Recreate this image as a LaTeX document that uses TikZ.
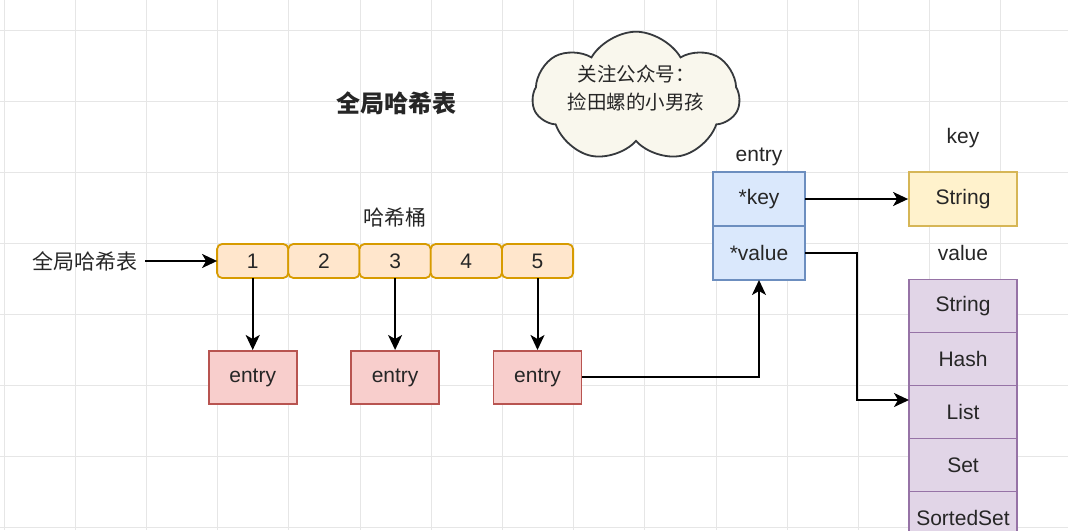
\documentclass[tikz,border=0pt]{standalone}
\usepackage{fontspec}
\setmainfont{Liberation Sans}
\newfontfamily\cjk{Noto Sans CJK SC}
\usepackage{tikz}
\usetikzlibrary{positioning,arrows.meta,shapes.symbols}
\usepackage{xcolor}

\definecolor{gridline}{HTML}{E6E6E6}
\definecolor{bucketfill}{HTML}{FFE6CC}
\definecolor{bucketline}{HTML}{D79B00}
\definecolor{entryfill}{HTML}{F8CECC}
\definecolor{entryline}{HTML}{B85450}
\definecolor{cellfill}{HTML}{DAE8FC}
\definecolor{cellline}{HTML}{6C8EBF}
\definecolor{keyfill}{HTML}{FFF2CC}
\definecolor{keyline}{HTML}{D6B656}
\definecolor{typefill}{HTML}{E1D5E7}
\definecolor{typeline}{HTML}{9673A6}
\definecolor{cloudfill}{HTML}{F9F7ED}
\definecolor{cloudline}{HTML}{36393D}

\begin{document}
\begin{tikzpicture}[
    x=1pt, y=-1pt,
    every node/.style={font=\fontsize{21}{25}\selectfont, text=black!85},
    bucket/.style={
        rectangle,
        rounded corners=5pt,
        draw=bucketline,
        fill=bucketfill,
        line width=1.8pt,
        minimum width=71.2pt,
        minimum height=34pt,
        outer sep=0pt
    },
    entrybox/.style={
        rectangle,
        draw=entryline,
        fill=entryfill,
        line width=1.8pt,
        minimum width=88pt,
        minimum height=53pt
    },
    cell/.style={
        rectangle,
        draw=cellline,
        fill=cellfill,
        line width=1.8pt,
        minimum width=92pt,
        minimum height=54pt,
        outer sep=0pt
    },
    keybox/.style={
        rectangle,
        draw=keyline,
        fill=keyfill,
        line width=1.8pt,
        minimum width=108pt,
        minimum height=54pt
    },
    typebox/.style={
        rectangle,
        draw=typeline,
        fill=typefill,
        line width=1.8pt,
        minimum width=108pt,
        minimum height=53pt,
        outer sep=0pt
    },
    connector/.style={
        line width=2pt,
        -{Stealth[length=15pt,width=14pt,inset=4pt]}
    }
]

% page and grid
\useasboundingbox (0,0) rectangle (1068,530);
\clip (0,0) rectangle (1068,530);
\fill[white] (0,0) rectangle (1068,530);
\foreach \x in {0,...,14}
    \draw[gridline, line width=1pt] ({4+71.2*\x},0) -- ({4+71.2*\x},530);
\foreach \y in {0,...,7}
    \draw[gridline, line width=1pt] (0,{30.5+71*\y}) -- (1068,{30.5+71*\y});

% titles
\node (title) at (396,103)
{\cjk\bfseries\fontsize{24}{28}\selectfont 全局哈希表};

\node[cloud, cloud puffs=7, cloud puff arc=120, cloud ignores aspect,
      draw=cloudline, fill=cloudfill, line width=1.8pt,
      minimum width=207pt, minimum height=105pt,
      font=\cjk\fontsize{19.5}{28}\selectfont] (notice) at (636,97)
{\raisebox{7pt}[\height][\depth]{\begin{tabular}{@{}c@{}}关注公众号：\\捡田螺的小男孩\end{tabular}}};

% hash buckets
\node (bucketlabel) at (395,218) {\cjk 哈希桶};
\node (globallabel) at (85,261) {\cjk 全局哈希表};

\node[bucket] (b1) at (252.7,261) {1};
\node[bucket, right=0pt of b1] (b2) {2};
\node[bucket, right=0pt of b2] (b3) {3};
\node[bucket, right=0pt of b3] (b4) {4};
\node[bucket, right=0pt of b4] (b5) {5};

\node[entrybox, below=72pt of b1] (e1) {entry};
\node[entrybox, below=72pt of b3] (e2) {entry};
\node[entrybox, below=72pt of b5] (e3) {entry};

% entry structure
\node[cell] (keyptr) at (759,199) {*key};
\node[cell, below=0pt of keyptr] (valptr) {*value};
\node (entrylabel) at (759,157) {entry};

\node[keybox] (keystr) at (963,199) {String};
\node (keylabel) at (963,138) {key};
\node (valuelabel) at (963,253) {value};

\node[typebox] (tstring) at (963,306) {String};
\node[typebox, below=0pt of tstring] (thash) {Hash};
\node[typebox, below=0pt of thash] (tlist) {List};
\node[typebox, below=0pt of tlist] (tset) {Set};
\node[typebox, below=0pt of tset] (tsorted) {SortedSet};

% connectors
\draw[connector] ([xshift=4pt]globallabel.east) -- (b1.west);
\draw[connector] (b1) -- (e1);
\draw[connector] (b3) -- (e2);
\draw[connector] (b5) -- (e3);
\draw[connector] (e3.east) -| (valptr.south);
\draw[connector] (keyptr) -- (keystr);
\draw[connector] (valptr.east) -- ++(52,0) |- ([yshift=12pt]tlist.west);

\end{tikzpicture}
\end{document}
